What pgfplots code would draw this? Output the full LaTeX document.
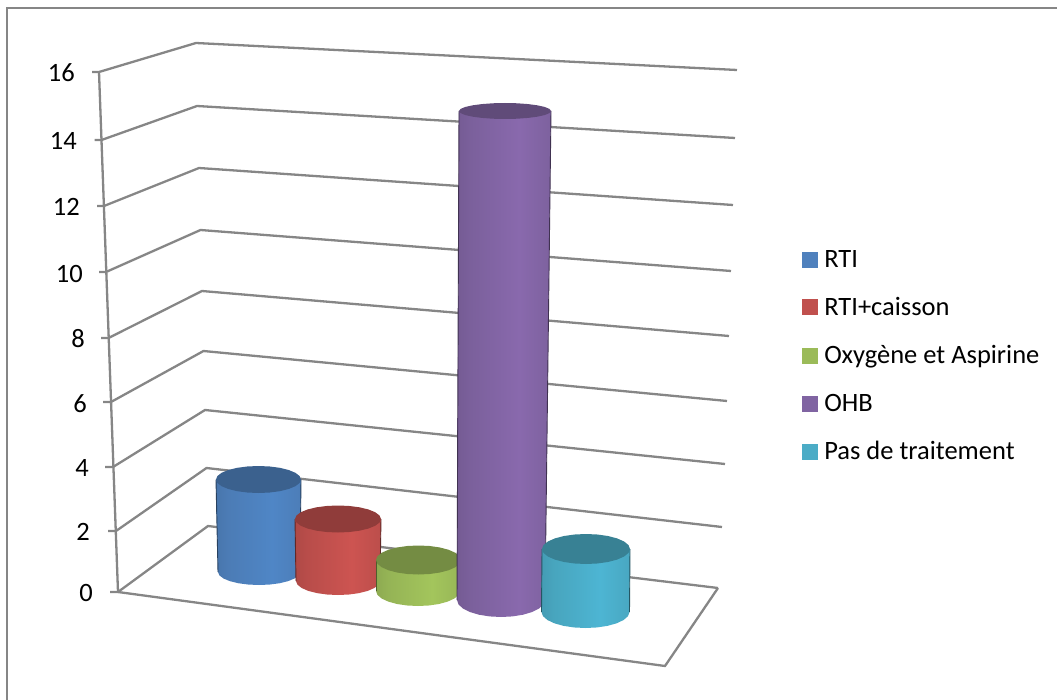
\documentclass[border=0pt]{standalone}
\usepackage{fontspec}
\setmainfont{Carlito}
\usepackage{pgfplots}
\usepackage{pgfplotstable}
\pgfplotsset{compat=1.18}

\definecolor{framegray}{HTML}{868686}
\definecolor{cblue}{HTML}{4F81BD}
\definecolor{cred}{HTML}{C0504D}
\definecolor{cgreen}{HTML}{9BBB59}
\definecolor{cpurple}{HTML}{8064A2}
\definecolor{cteal}{HTML}{4BACC6}

% Lit-cylinder shading: #2 base colour, #3 highlight colour
\newcommand\cylshade[3]{%
  \definecolor{hl#1}{HTML}{#3}%
  \pgfdeclarehorizontalshading{#1}{100bp}{%
    color(0bp)=(#2!50!black);
    color(4bp)=(#2!65!black);
    color(12bp)=(#2!82!black);
    color(32bp)=(#2!96!black);
    color(58bp)=(hl#1);
    color(78bp)=(#2!96!black);
    color(92bp)=(#2!72!black);
    color(100bp)=(#2!50!black)}}
\cylshade{shblue}{cblue}{4F86C6}
\cylshade{shred}{cred}{CD5451}
\cylshade{shgreen}{cgreen}{A3C55C}
\cylshade{shpurple}{cpurple}{8969AD}
\cylshade{shteal}{cteal}{4DB5D3}

% Outline of the body: side edges and the lower half of the base ellipse (t=0 base, t=1 top)
\pgfplotstableread{
u v t
-1 0 1
-1 0 0
-0.966 0.259 0
-0.866 0.5 0
-0.707 0.707 0
-0.5 0.866 0
-0.259 0.966 0
0 1 0
0.259 0.966 0
0.5 0.866 0
0.707 0.707 0
0.866 0.5 0
0.966 0.259 0
1 0 0
1 0 1
}\bodyshape
% The two straight side edges of the body
\pgfplotstableread{
u v t
-1 0 1
-1 0 0
}\leftedge
\pgfplotstableread{
u v t
1 0 1
1 0 0
}\rightedge
% Unit ellipse of the top face
\pgfplotstableread{
u v
1 0
0.966 0.259
0.866 0.5
0.707 0.707
0.5 0.866
0.259 0.966
0 1
-0.259 0.966
-0.5 0.866
-0.707 0.707
-0.866 0.5
-0.966 0.259
-1 0
-0.966 -0.259
-0.866 -0.5
-0.707 -0.707
-0.5 -0.866
-0.259 -0.966
0 -1
0.259 -0.966
0.5 -0.866
0.707 -0.707
0.866 -0.5
0.966 -0.259
}\topshape

% Body: #1 base cx, #2 base y, #3 base half-width, #4 base half-depth,
% #5 top cx, #6 top half-width, #7 rise (value times pixels per unit), #8 shading, #9 base colour
\newcommand\cylbody[9]{%
  \addplot[forget plot,draw=none,shade,shading=#8]
    table[x expr={#1+(#5-#1)*\thisrow{t}+(#3+(#6-#3)*\thisrow{t})*\thisrow{u}},
          y expr={#2-(#7)*\thisrow{t}+#4*\thisrow{v}}]{\bodyshape};
  \addplot[forget plot,#9!50!black,line width=0.9pt]
    table[x expr={#1+(#5-#1)*\thisrow{t}+(#3+(#6-#3)*\thisrow{t})*\thisrow{u}},
          y expr={#2-(#7)*\thisrow{t}}]{\leftedge};
  \addplot[forget plot,#9!50!black,line width=0.9pt]
    table[x expr={#1+(#5-#1)*\thisrow{t}+(#3+(#6-#3)*\thisrow{t})*\thisrow{u}},
          y expr={#2-(#7)*\thisrow{t}}]{\rightedge};}
% Top face: #1 cx, #2 y, #3 half-width, #4 half-depth, #5 colour
\newcommand\cylface[5]{%
  \addplot[forget plot,draw=none,fill=#5]
    table[x expr={#1+#3*\thisrow{u}},
          y expr={#2+#4*\thisrow{v}}]{\topshape};}
\tikzset{valuelabel/.style={anchor=east,inner sep=0pt,font=\fontsize{26.5}{30}\selectfont}}
\pgfplotsset{gridline/.style={forget plot,framegray,line width=2.3pt}}

\begin{document}
\begin{tikzpicture}
\begin{axis}[
  scale only axis, width=1057pt, height=700pt,
  xmin=0, xmax=1057, ymin=0, ymax=700, y dir=reverse,
  hide axis, clip=false,
  legend style={at={(axis cs:802,248)}, anchor=north west, draw=none, fill=none,
    font=\fontsize{26.5}{30}\selectfont, row sep=24.6pt, inner sep=0pt},
  legend cell align=left,
  legend image code/.code={\fill[#1] (0pt,-7.5pt) rectangle (15pt,7.5pt); \path (0pt,0pt) (19.7pt,0pt);},
]
% Page extent
\path (axis cs:0,0) (axis cs:1057,700);
% Outer frame, running off the page
\addplot[gridline,overlay] coordinates {(7,705) (7,8) (1062,8)};
% Value axis, its ticks and the wall and floor gridlines
\addplot[gridline] coordinates {(99,72) (118,592)};
\addplot[gridline] coordinates {(92,72) (99,72) (196,43) (737,70)};
\addplot[gridline] coordinates {(94.5,140) (101.5,140) (197,106) (735,138)};
\addplot[gridline] coordinates {(97,206) (104,206) (199,168) (733,205)};
\addplot[gridline] coordinates {(99,272) (106,272) (200.5,230) (731,271)};
\addplot[gridline] coordinates {(101,338) (108.5,338) (202,291) (729,336)};
\addplot[gridline] coordinates {(103,402) (111,402) (203.5,351) (727,401)};
\addplot[gridline] coordinates {(105,467) (113,467) (205,410) (725,464)};
\addplot[gridline] coordinates {(108,531) (116,531) (206.5,468) (722,527)};
\addplot[gridline] coordinates {(110,592) (118,592) (208,526) (718,588)};
\addplot[gridline] coordinates {(118,592) (665,666) (718,588)};

% Cylinders, left to right: values 3, 2, 1, 15, 2
\cylbody{259}{572}{41}{13}{258.5}{42.5}{3*30.83}{shblue}{cblue}
\cylface{258.5}{479.5}{42.5}{13.5}{cblue!75!black}
\cylbody{338}{581}{42}{14}{338}{43}{2*31}{shred}{cred}
\cylface{338}{519}{43}{13.5}{cred!75!black}
\cylbody{418}{591}{42}{15}{418.5}{42.5}{1*31}{shgreen}{cgreen}
\cylface{418.5}{560}{42.5}{14.5}{cgreen!75!black}
\cylbody{501}{600}{44}{17}{505}{46}{15*32.6}{shpurple}{cpurple}
\cylface{505}{111}{46}{8}{cpurple!75!black}
\cylbody{585.5}{612}{44}{16}{586}{44}{2*31.5}{shteal}{cteal}
\cylface{586}{549}{44}{15}{cteal!75!black}

% Value labels
\node[valuelabel] at (axis cs:75,73) {16};
\node[valuelabel] at (axis cs:77,141) {14};
\node[valuelabel] at (axis cs:80,207) {12};
\node[valuelabel] at (axis cs:83,274) {10};
\node[valuelabel] at (axis cs:85,339) {8};
\node[valuelabel] at (axis cs:87,404) {6};
\node[valuelabel] at (axis cs:89,468) {4};
\node[valuelabel] at (axis cs:90,532) {2};
\node[valuelabel] at (axis cs:93,593) {0};

% Series legend
\addlegendimage{cblue}\addlegendentry{RTI}
\addlegendimage{cred}\addlegendentry{RTI+caisson}
\addlegendimage{cgreen}\addlegendentry{Oxygène et Aspirine}
\addlegendimage{cpurple}\addlegendentry{OHB}
\addlegendimage{cteal}\addlegendentry{Pas de traitement}
\end{axis}
\end{tikzpicture}
\end{document}
